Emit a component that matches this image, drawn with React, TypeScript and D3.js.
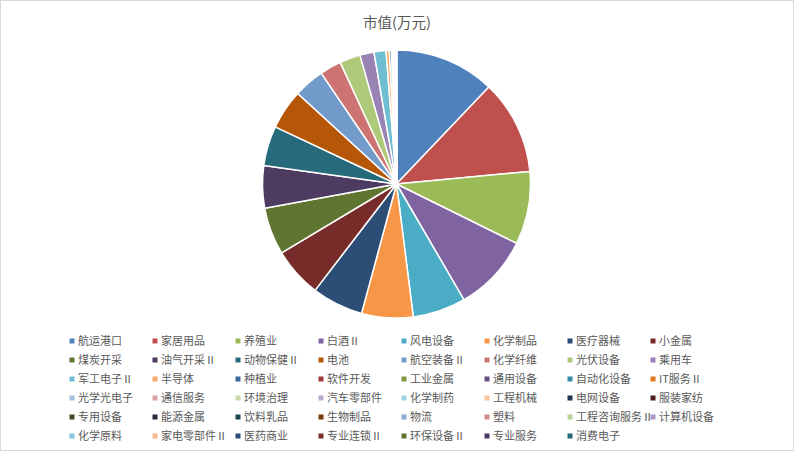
import React from "react";
import * as d3 from "d3";

const title = "市值(万元)";

const categories = [
  "航运港口", "家居用品", "养殖业", "白酒Ⅱ", "风电设备", "化学制品", "医疗器械", "小金属",
  "煤炭开采", "油气开采Ⅱ", "动物保健Ⅱ", "电池", "航空装备Ⅱ", "化学纤维", "光伏设备", "乘用车",
  "军工电子Ⅱ", "半导体", "种植业", "软件开发", "工业金属", "通用设备", "自动化设备", "IT服务Ⅱ",
  "光学光电子", "通信服务", "环境治理", "汽车零部件", "化学制药", "工程机械", "电网设备", "服装家纺",
  "专用设备", "能源金属", "饮料乳品", "生物制品", "物流", "塑料", "工程咨询服务Ⅱ", "计算机设备",
  "化学原料", "家电零部件Ⅱ", "医药商业", "专业连锁Ⅱ", "环保设备Ⅱ", "专业服务", "消费电子",
];

const values = [
  12100, 11400, 8800, 9300, 6400, 6200, 6200, 6000,
  5700, 5100, 4800, 4800, 3700, 2600, 2500, 1700,
  1450, 400, 250, 120, 80, 60, 50, 40,
  35, 30, 25, 20, 20, 18, 15, 12,
  10, 10, 8, 8, 6, 5, 5, 4,
  4, 3, 3, 2, 2, 1, 1,
];

const colors = [
  "#4F81BD", "#C0504D", "#9BBB59", "#8064A2", "#4BACC6", "#F79646",
  "#2C4D75", "#772C2A", "#5F7530", "#4D3B62", "#276A7C", "#B65708",
  "#729ACA", "#CD7371", "#AFC97A", "#9983B5", "#6FBDD1", "#F9AB6B",
  "#3A679C", "#9E3B39", "#7E9B41", "#664F83", "#358DA4", "#E0761F",
  "#A7BFDE", "#DDA2A1", "#C9DCA8", "#B9ABCD", "#A1D4E2", "#FBC397",
  "#1E3350", "#4F1E1C", "#3F4E20", "#332741", "#1A4753", "#793A05",
  "#8AA8D0", "#D58B8A", "#BAD295", "#A997C1", "#85C7D8", "#FAB98A",
  "#2A4B72", "#7A2F2C", "#5C722F", "#4A3A60", "#26677A",
];

const W = 794;
const H = 451;
const cx = 396.5;
const cy = 184;
const R = 134;

const font = "'Noto Sans CJK SC', 'Microsoft YaHei', sans-serif";

export default function App() {
  const pie = d3
    .pie<number>()
    .sort(null)
    .value((d) => d)
    .startAngle(0)
    .endAngle(2 * Math.PI);
  const arcs = pie(values);
  const arc = d3.arc<d3.PieArcDatum<number>>().innerRadius(0).outerRadius(R);

  const colX = d3.scaleLinear().domain([0, 7]).range([72, 653]);
  const rowY = d3.scaleLinear().domain([0, 5]).range([341, 436]);

  return (
    <svg
      width={W}
      height={H}
      style={{ position: "absolute", left: 0, top: 0, background: "#fff" }}
    >
      <rect x={0.5} y={0.5} width={W - 1} height={H - 1} fill="#fff" stroke="#D9D9D9" />
      <text
        x={W / 2}
        y={28}
        textAnchor="middle"
        fontFamily={font}
        fontSize={14.5}
        fill="#595959"
      >
        {title}
      </text>
      <g transform={`translate(${cx},${cy})`}>
        {arcs.map((a, i) => (
          <path
            key={i}
            d={arc(a) || ""}
            fill={colors[i % colors.length]}
            stroke="#fff"
            strokeWidth={1.5}
            strokeLinejoin="round"
          />
        ))}
      </g>
      <g>
        {categories.map((c, i) => {
          const col = i % 8;
          const row = Math.floor(i / 8);
          const x = colX(col);
          const y = rowY(row);
          return (
            <g key={c} transform={`translate(${x},${y})`}>
              <rect x={-2.5} y={-2.5} width={5} height={5} fill={colors[i % colors.length]} />
              <text
                x={6}
                y={4}
                fontFamily={font}
                fontSize={11}
                fill="#595959"
              >
                {c}
              </text>
            </g>
          );
        })}
      </g>
    </svg>
  );
}
